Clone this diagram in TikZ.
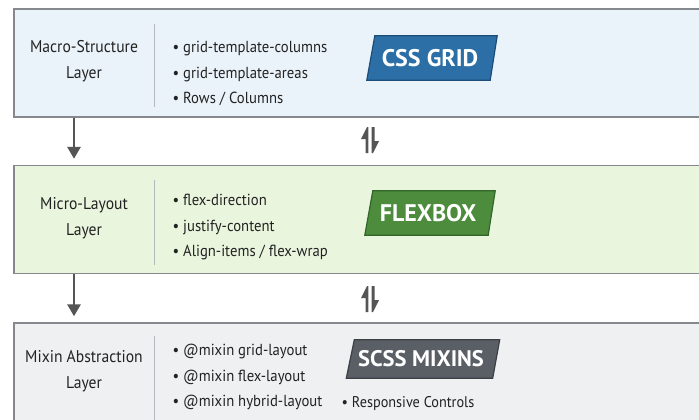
\documentclass[tikz,border=0pt]{standalone}
\usepackage{fontspec}
\setmainfont{PT Sans}[FakeStretch=0.92]
\newfontfamily\badgefont{PT Sans}
\usetikzlibrary{arrows.meta}
\definecolor{bluefill}{HTML}{EBF3FA}
\definecolor{greenfill}{HTML}{EAF5DE}
\definecolor{grayfill}{HTML}{EEF0F2}
\definecolor{boxline}{HTML}{85898E}
\definecolor{divline}{HTML}{B4B8BC}
\definecolor{txt}{HTML}{222222}
\definecolor{arrcol}{HTML}{555555}
\definecolor{bblue}{HTML}{2B6FA6}
\definecolor{bblueD}{HTML}{1C4C78}
\definecolor{bgreen}{HTML}{4C8C3C}
\definecolor{bgreenD}{HTML}{33662A}
\definecolor{bgray}{HTML}{5A5F66}
\definecolor{bgrayD}{HTML}{3C4045}
\tikzset{
  layerbox/.style={draw=boxline, line width=1.4pt, minimum width=690pt, minimum height=108pt, inner sep=0pt},
  labeltxt/.style={align=center, font=\fontsize{17}{26}\selectfont, text=txt},
  bullets/.style={align=left, anchor=west, font=\fontsize{16}{25.5}\selectfont, text=txt},
  divider/.style={draw=divline, line width=0.9pt},
  badgebox/.style={minimum width=122pt, minimum height=44pt, inner sep=0pt},
  badgetxt/.style={font=\badgefont\fontsize{24}{24}\selectfont\bfseries, text=white, inner sep=0pt},
  downarr/.style={draw=arrcol, line width=2.8pt, -{Triangle[length=12pt,width=13pt]}},
}
\newcommand{\bul}{\textbullet\hspace{4pt}}
\newcommand{\badgebg}[3]{%
  \fill[#2, draw=#3, line width=1.2pt]
    ([xshift=-2pt]#1.south west) -- ([xshift=6pt]#1.north west) -- ([xshift=6pt]#1.north east) -- ([xshift=-1pt]#1.south east) -- cycle;}
\begin{document}
\begin{tikzpicture}[x=1pt,y=-1pt]
\useasboundingbox (0,0) rectangle (699,420);
\fill[white] (0,0) rectangle (699,420);
% layer boxes
\node[layerbox, fill=bluefill] (L1) at (359,63) {};
\node[layerbox, fill=greenfill] (L2) at (359,219.5) {};
\node[layerbox, fill=grayfill] (L3) at (359,377) {};
% dividers
\draw[divider] (154,24) -- (154,107);
\draw[divider] (154,180) -- (154,265);
\draw[divider] (154,336) -- (154,420);
% left labels
\node[labeltxt] (t1) at (84,61) {Macro-Structure\\Layer};
\node[labeltxt] (t2) at (84,218) {Micro-Layout\\Layer};
\node[labeltxt] (t3) at (84,371) {Mixin Abstraction\\Layer};
% bullet lists
\node[bullets] (b1) at (169,73.5) {\bul grid-template-columns\\\bul grid-template-areas\\\bul Rows / Columns};
\node[bullets] (b2) at (169,227) {\bul flex-direction\\\bul justify-content\\\bul Align-items / flex-wrap};
\node[bullets] (b3) at (169,377) {\bul @mixin grid-layout\\\bul @mixin flex-layout\\\bul @mixin hybrid-layout};
\node[bullets, font=\fontsize{15.5}{16}\selectfont] (rc) at (338,404) {\bul Responsive Controls};
% badges
\node[badgebox] (g1) at (430,58) {};
\badgebg{g1}{bblue}{bblueD}
\node[badgetxt] (g1t) at (g1) {CSS GRID};
\node[badgebox] (g2) at (428,213) {};
\badgebg{g2}{bgreen}{bgreenD}
\node[badgetxt] (g2t) at (g2) {FLEXBOX};
\node[badgebox, minimum width=145pt, minimum height=38pt] (g3) at (421,359) {};
\badgebg{g3}{bgray}{bgrayD}
\node[badgetxt, font=\badgefont\fontsize{22.5}{22.5}\selectfont\bfseries] (g3t) at (g3) {SCSS MIXINS};
% down arrows
\coordinate (ax) at (74,0);
\draw[downarr] (L1.south -| ax) -- ([yshift=6pt]L2.north -| ax);
\draw[downarr] (L2.south -| ax) -- ([yshift=6pt]L3.north -| ax);
% bidirectional harpoons
\foreach \yy/\nm in {127/h1,286/h2}{
  \coordinate (\nm) at (370,\yy);
  \fill[arrcol] ([xshift=-3pt]\nm) -- ++(-6,12) -- ++(4.5,0) -- ++(0,14) -- ++(2.8,0) -- ++(0,-26) -- cycle;
  \fill[arrcol] ([xshift=3pt,yshift=-26pt]\nm) -- ++(6,-12) -- ++(-4.5,0) -- ++(0,-14) -- ++(-2.8,0) -- ++(0,26) -- cycle;
}
\end{tikzpicture}
\end{document}
